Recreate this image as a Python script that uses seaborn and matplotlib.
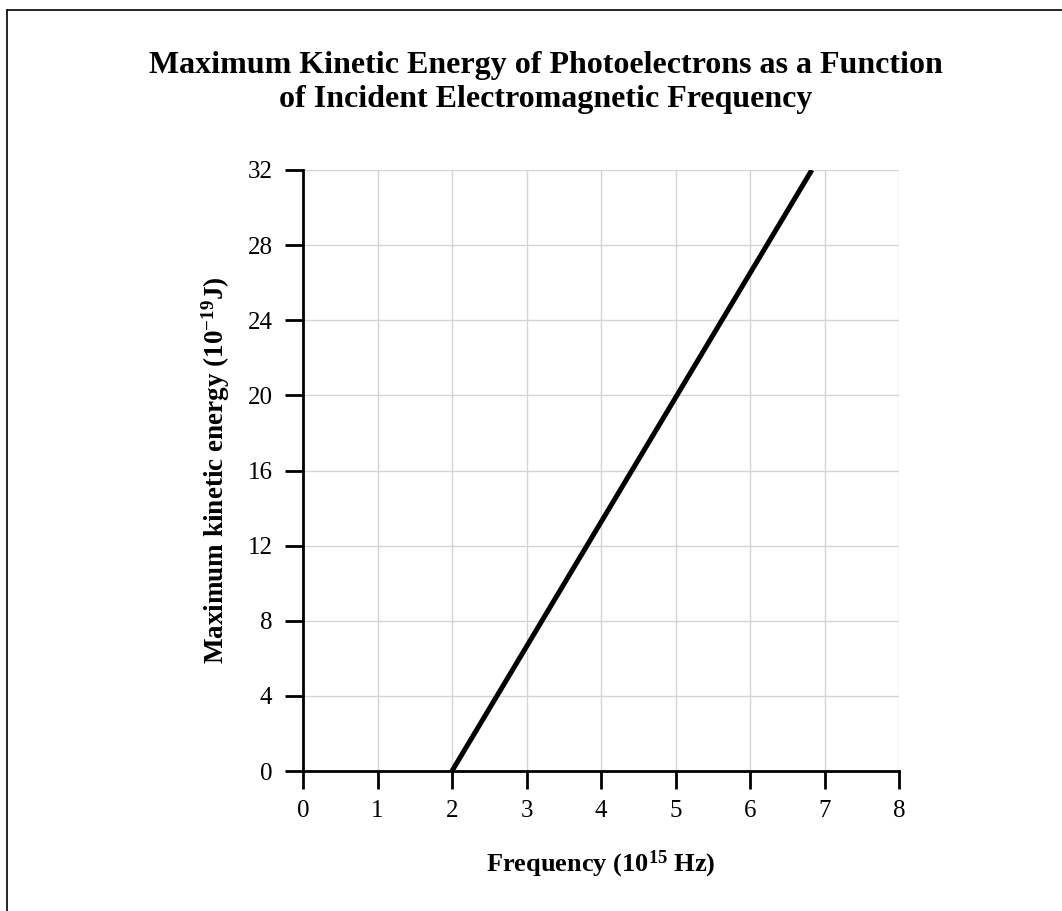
import matplotlib
matplotlib.use("Agg")
import matplotlib.pyplot as plt
import seaborn as sns
import pandas as pd
from matplotlib.lines import Line2D

# Data
frequency = [2.0, 6.83]          # 10^15 Hz
max_ke = [0.0, 32.0]             # 10^-19 J
x_ticks = [0, 1, 2, 3, 4, 5, 6, 7, 8]
y_ticks = [0, 4, 8, 12, 16, 20, 24, 28, 32]
title_lines = ["Maximum Kinetic Energy of Photoelectrons as a Function",
               "of Incident Electromagnetic Frequency"]

sns.set_theme(style="white")
plt.rcParams['font.family'] = ['Liberation Serif', 'DejaVu Serif']
plt.rcParams['mathtext.default'] = 'regular'
plt.rcParams['text.color'] = 'black'
plt.rcParams['axes.labelcolor'] = 'black'
plt.rcParams['xtick.color'] = 'black'
plt.rcParams['ytick.color'] = 'black'

df = pd.DataFrame({"Frequency": frequency, "KE": max_ke})

fig = plt.figure(figsize=(10.62, 9.11), dpi=100)
ax = fig.add_axes([303/1062, 1-771/911, (899-303)/1062, (771-170)/911])

sns.lineplot(data=df, x="Frequency", y="KE", ax=ax, color="black", linewidth=3.6,
             solid_capstyle="butt")

ax.set_xlim(0, 8)
ax.set_ylim(0, 32)
ax.set_xticks(x_ticks)
ax.set_yticks(y_ticks)
ax.set_xticklabels([str(t) for t in x_ticks], fontsize=18)
ax.set_yticklabels([str(t) for t in y_ticks], fontsize=18)
ax.grid(True, color="#d4d4d4", linewidth=1.0)
ax.set_axisbelow(True)
for s in ["top", "right"]:
    ax.spines[s].set_visible(False)
for s in ["left", "bottom"]:
    ax.spines[s].set_color("black")
    ax.spines[s].set_linewidth(2.0)
ax.tick_params(axis="both", which="major", direction="out", length=13, width=2.0,
               color="black", labelcolor="black", bottom=True, left=True)
ax.tick_params(axis="y", pad=9)
ax.tick_params(axis="x", pad=8)

ax.set_xlabel("Frequency (10$^{15}$ Hz)", fontsize=19, fontweight="bold",
              color="black", labelpad=19)
ax.set_ylabel("Maximum kinetic energy (10$^{-19}$J)", fontsize=19.5, fontweight="bold",
              color="black", labelpad=11)

fig.text(546/1062, 1-65/911, title_lines[0], ha="center", va="center",
         fontsize=23, fontweight="bold", color="black")
fig.text(546/1062, 1-100/911, title_lines[1], ha="center", va="center",
         fontsize=23, fontweight="bold", color="black")

# border lines (left and top)
fig.add_artist(Line2D([7/1062, 7/1062], [0, 1-10/911], transform=fig.transFigure,
                      color="black", linewidth=1.2))
fig.add_artist(Line2D([7/1062, 1], [1-10/911, 1-10/911], transform=fig.transFigure,
                      color="black", linewidth=1.2))

fig.savefig("out.png", dpi=100)
